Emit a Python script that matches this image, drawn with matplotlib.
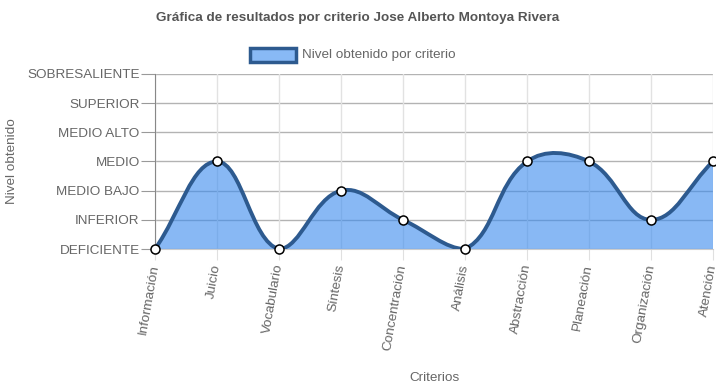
import numpy as np
import matplotlib.pyplot as plt
from matplotlib.path import Path
from matplotlib.patches import PathPatch, Rectangle

plt.rcParams['font.family'] = ['Liberation Sans', 'DejaVu Sans']

# data
criterios = ['Información', 'Juicio', 'Vocabulario', 'Síntesis', 'Concentración',
             'Análisis', 'Abstracción', 'Planeación', 'Organización', 'Atención']
niveles = [0, 3, 0, 2, 1, 0, 3, 3, 1, 3]
etiquetas_nivel = ['DEFICIENTE', 'INFERIOR', 'MEDIO BAJO', 'MEDIO',
                   'MEDIO ALTO', 'SUPERIOR', 'SOBRESALIENTE']

fig = plt.figure(figsize=(7.16, 3.91), dpi=100)
ax = fig.add_axes([155/716, 1-249/391, 558/716, 175/391])

x = np.arange(len(criterios), dtype=float)
y = np.array(niveles, dtype=float)

# Chart.js style spline (tension 0.4), computed in pixel-ish units
sx, sy = 62.0, 29.2
px, py = x*sx, y*sy
t = 0.4
cps = []
n = len(px)
for i in range(n):
    p0 = (px[max(i-1, 0)], py[max(i-1, 0)])
    p1 = (px[i], py[i])
    p2 = (px[min(i+1, n-1)], py[min(i+1, n-1)])
    d01 = np.hypot(p1[0]-p0[0], p1[1]-p0[1])
    d12 = np.hypot(p2[0]-p1[0], p2[1]-p1[1])
    s01 = d01/(d01+d12) if d01+d12 else 0
    s12 = d12/(d01+d12) if d01+d12 else 0
    fa, fb = t*s01, t*s12
    prev = (p1[0]-fa*(p2[0]-p0[0]), p1[1]-fa*(p2[1]-p0[1]))
    nxt = (p1[0]+fb*(p2[0]-p0[0]), p1[1]+fb*(p2[1]-p0[1]))
    cps.append((prev, nxt))

def clampy(v):
    return min(max(v, 0), 6*sy)

verts = [(px[0]/sx, py[0]/sy)]
codes = [Path.MOVETO]
for i in range(n-1):
    c1 = cps[i][1]
    c2 = cps[i+1][0]
    verts += [(c1[0]/sx, clampy(c1[1])/sy), (c2[0]/sx, clampy(c2[1])/sy), (px[i+1]/sx, py[i+1]/sy)]
    codes += [Path.CURVE4]*3

line_path = Path(verts, codes)
fill_verts = verts + [(x[-1], 0), (x[0], 0), verts[0]]
fill_codes = codes + [Path.LINETO, Path.LINETO, Path.CLOSEPOLY]

ax.add_patch(PathPatch(Path(fill_verts, fill_codes), facecolor=(57/255, 138/255, 238/255, 0.6),
                       edgecolor='none', zorder=2))
ax.add_patch(PathPatch(line_path, facecolor='none', edgecolor='#2d5a8f', lw=2.8, zorder=3,
                       capstyle='round'))
ax.plot(x, y, 'o', ms=6.5, mfc='white', mec='black', mew=1.1, zorder=4, clip_on=False)

ax.set_xlim(0, len(criterios)-1)
ax.set_ylim(0, 6)
ax.set_yticks(range(7))
ax.set_yticklabels(etiquetas_nivel)
ax.set_xticks(x)
ax.set_xticklabels(criterios, rotation=80, ha='right', va='center', rotation_mode='anchor')
ax.tick_params(axis='y', length=10, color='#999999', labelsize=9.7, labelcolor='#666666', pad=1)
ax.tick_params(axis='x', length=8, color='#e0e0e0', labelsize=9.7, labelcolor='#666666', pad=3)

for v in range(7):
    ax.axhline(v, color='#b3b3b3', lw=1, zorder=1)
for v in x:
    ax.axvline(v, color='#e2e2e2', lw=1, zorder=1)
for s in ['top', 'right']:
    ax.spines[s].set_visible(False)
ax.spines['left'].set_color('#888888')
ax.spines['bottom'].set_color('#cccccc')

fig.text(358/716, 1-18/391, 'Gráfica de resultados por criterio Jose Alberto Montoya Rivera',
         ha='center', va='center', fontsize=9.7, fontweight='bold', color='#555555')
fig.text(12/716, 1-161/391, 'Nivel obtenido', rotation=90, ha='center', va='center',
         fontsize=9.7, color='#666666')
fig.text(434/716, 1-378/391, 'Criterios', ha='center', va='center', fontsize=9.7, color='#666666')

# legend
fig.patches.append(Rectangle((250/716, 1-62/391), 46/716, 14/391, transform=fig.transFigure,
                             facecolor='#88b9f5', edgecolor='#2d5a8f', lw=2.5))
fig.text(302/716, 1-55/391, 'Nivel obtenido por criterio', ha='left', va='center',
         fontsize=9.7, color='#666666')

fig.savefig('out.png', dpi=100)
